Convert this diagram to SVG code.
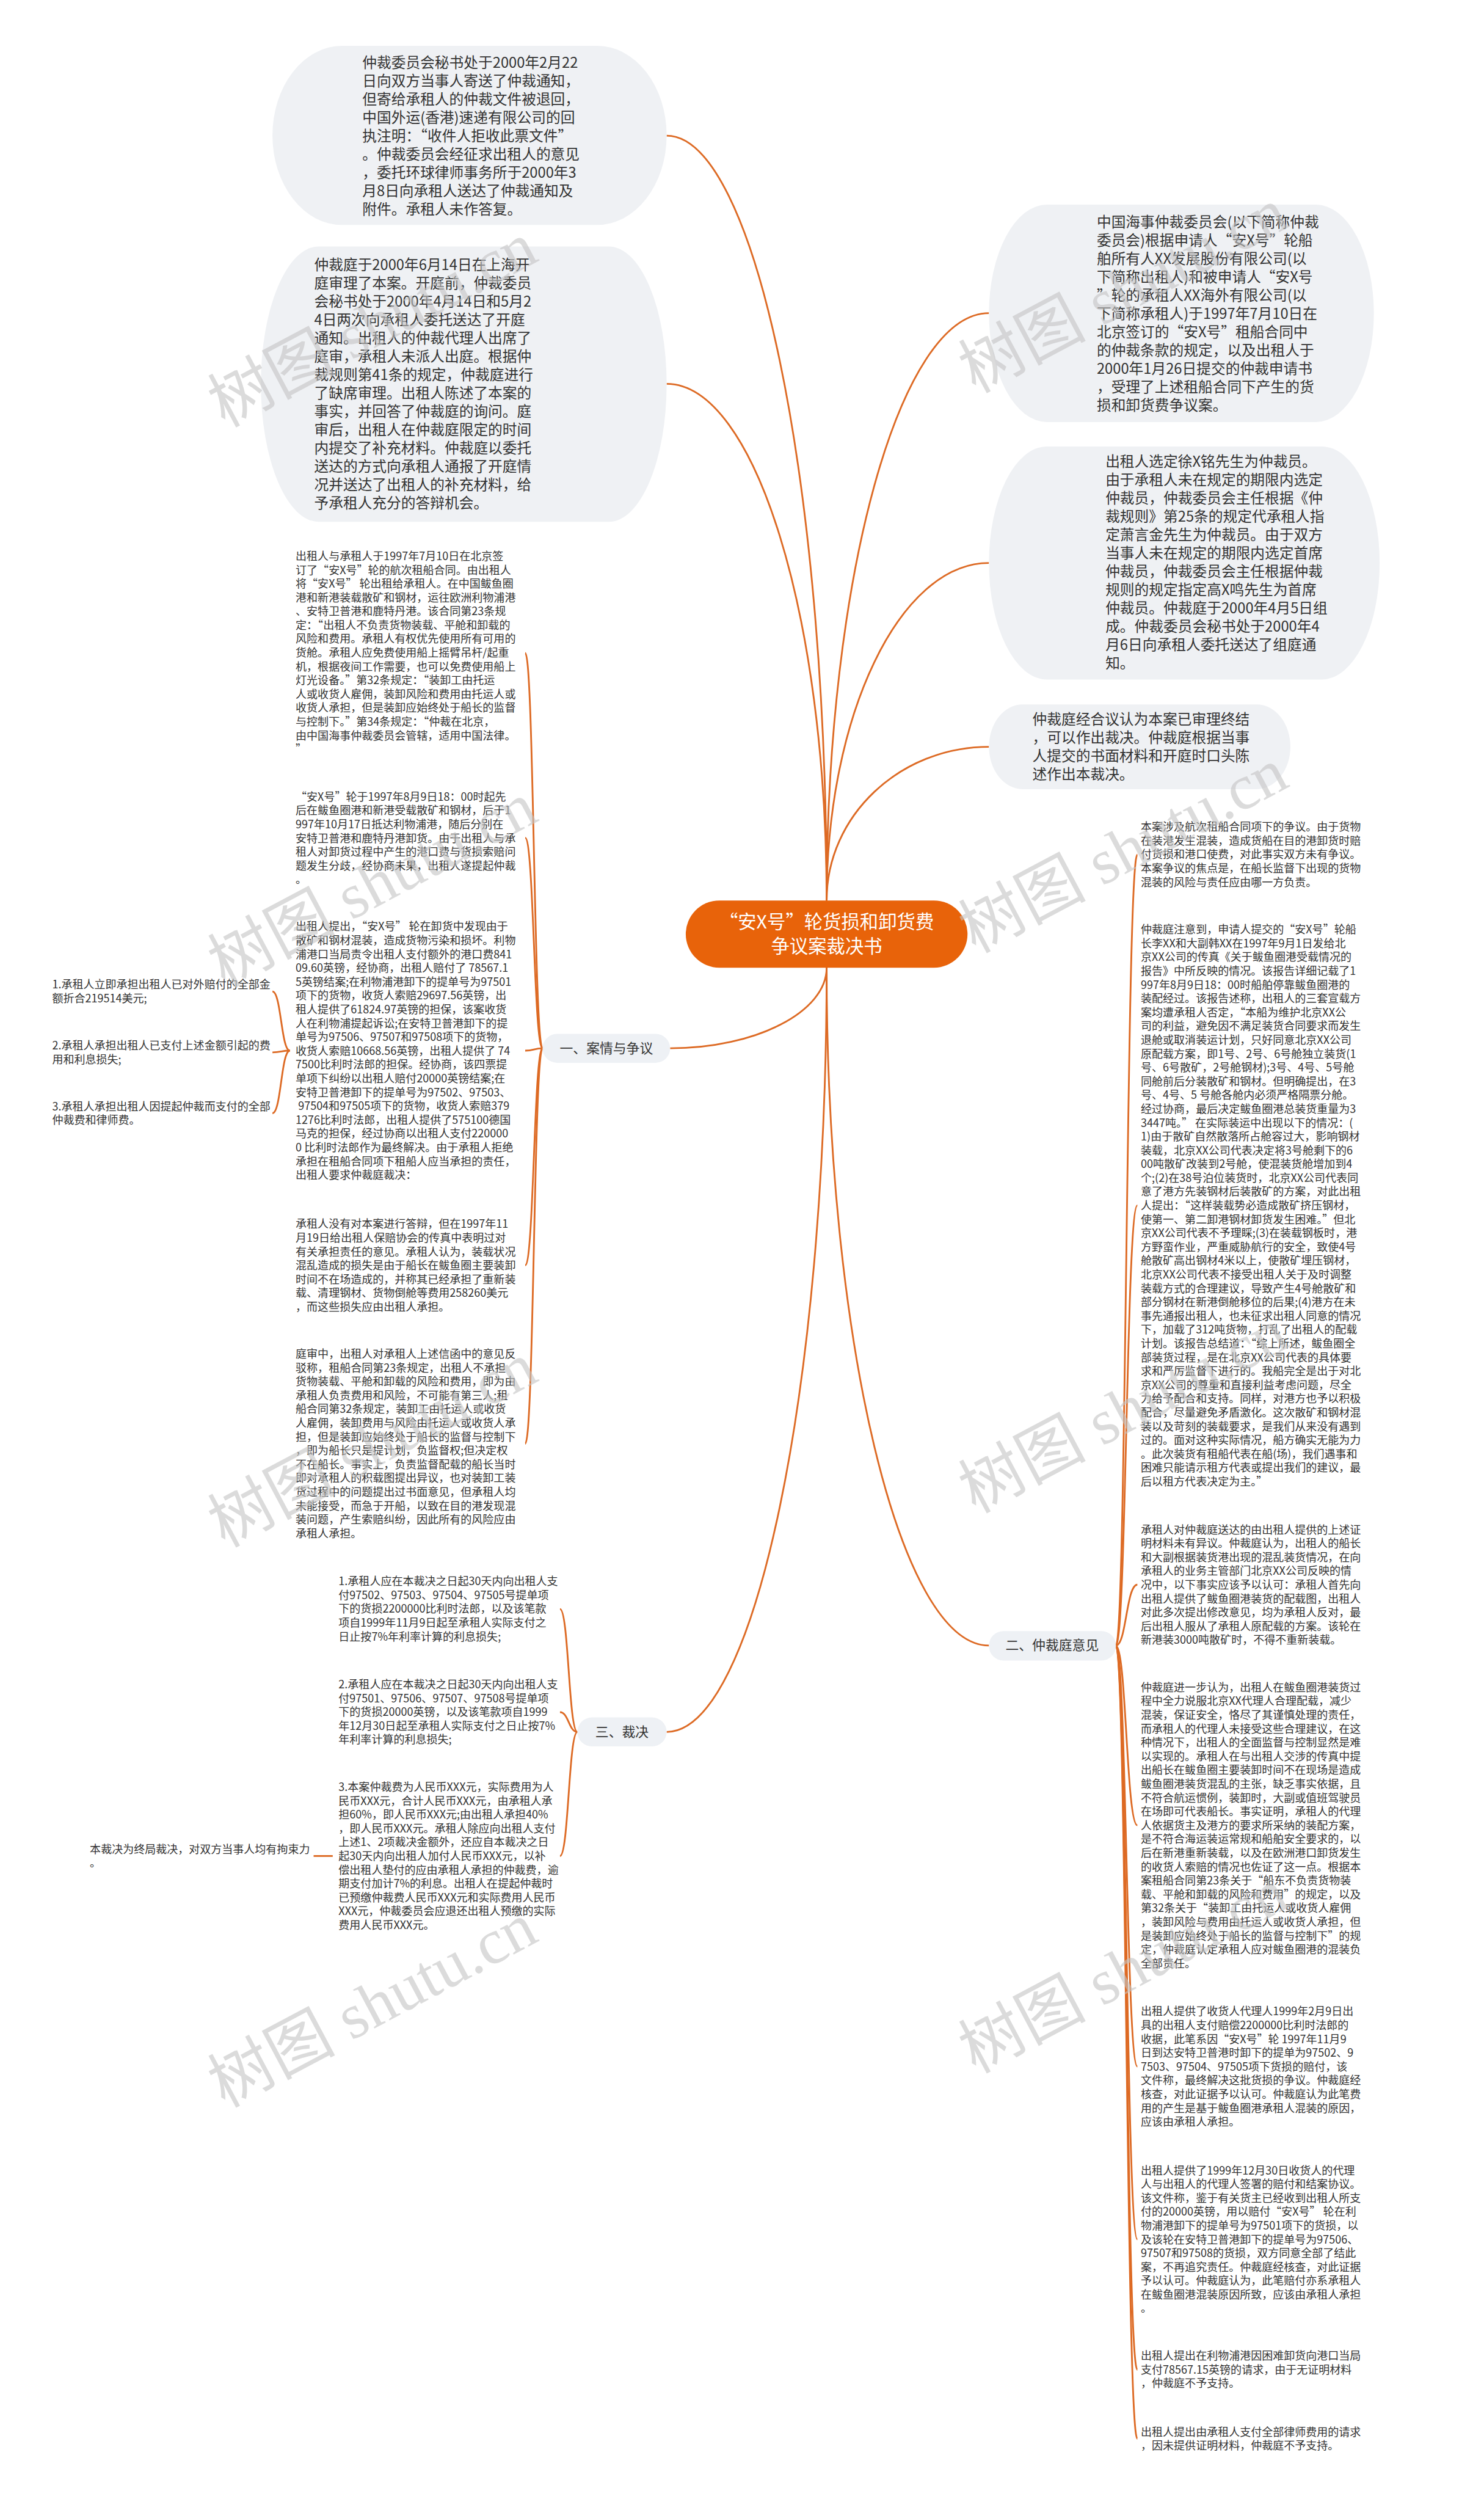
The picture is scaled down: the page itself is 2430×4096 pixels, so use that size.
<svg xmlns="http://www.w3.org/2000/svg" width="2430" height="4096" viewBox="0 0 2430 4096">
<style>
.cn{stroke:#dd6a24;stroke-width:3;fill:none}
.bub{fill:#eff1f4}
.t{font-family:"Noto Sans CJK SC","Noto Sans",sans-serif;fill:#333}
.bt{font-size:25px}
.lt{font-size:19px}
.lab{fill:#eef1f5}
.labt{font-size:23px;text-anchor:middle}
.root{fill:#e8630a}
.roott{font-size:32px;fill:#fff;text-anchor:middle}
.wm{font-family:"Liberation Serif","Noto Sans CJK SC",serif;font-size:110px;fill:#c4c4c4;opacity:.6}
</style>
<rect width="2430" height="4096" fill="#fff"/>
<g transform="scale(0.949219)">
<g id="connectors">
<path class="cn" d="M1426 1553 C1426 828 1302 234 1150 234"/>
<path class="cn" d="M1426 1553 C1426 1063 1302 662 1150 662"/>
<path class="cn" d="M1426 1553 C1426 996 1552 540 1706 540"/>
<path class="cn" d="M1426 1553 C1426 1233 1552 971 1706 971"/>
<path class="cn" d="M1426 1553 C1426 1407 1552 1288 1706 1288"/>
<path class="cn" d="M1426 1669 C1426 1745 1304 1808 1156 1808"/>
<path class="cn" d="M1426 1669 C1426 2312 1552 2838 1706 2838"/>
<path class="cn" d="M1426 1669 C1426 2394 1302 2987 1150 2987"/>
<path class="cn" d="M936 1808 C921 1808 921 1126 906 1126"/>
<path class="cn" d="M936 1808 C921 1808 921 1445 906 1445"/>
<path class="cn" d="M936 1808 C921 1808 921 1812 906 1812"/>
<path class="cn" d="M936 1808 C921 1808 921 2182 906 2182"/>
<path class="cn" d="M936 1808 C921 1808 921 2490 906 2490"/>
<path class="cn" d="M500 1812 C485 1812 485 1710 470 1710"/>
<path class="cn" d="M500 1812 C485 1812 485 1815 470 1815"/>
<path class="cn" d="M500 1812 C485 1812 485 1920 470 1920"/>
<path class="cn" d="M996 2987 C981 2987 981 2775 966 2775"/>
<path class="cn" d="M996 2987 C981 2987 981 2953 966 2953"/>
<path class="cn" d="M996 2987 C981 2987 981 3201 966 3201"/>
<path class="cn" d="M574 3201 L541 3201"/>
<path class="cn" d="M1925 2838 C1943 2838 1943 1474 1962 1474"/>
<path class="cn" d="M1925 2838 C1943 2838 1943 2079 1962 2079"/>
<path class="cn" d="M1925 2838 C1943 2838 1943 2733 1962 2733"/>
<path class="cn" d="M1925 2838 C1943 2838 1943 3148 1962 3148"/>
<path class="cn" d="M1925 2838 C1943 2838 1943 3564 1962 3564"/>
<path class="cn" d="M1925 2838 C1943 2838 1943 3862 1962 3862"/>
<path class="cn" d="M1925 2838 C1943 2838 1943 4087 1962 4087"/>
<path class="cn" d="M1925 2838 C1943 2838 1943 4206 1962 4206"/>
</g>
<g id="root">
<rect class="root" x="1183" y="1553" width="486" height="116" rx="58"/>
<text class="t roott"><tspan x="1426" y="1601">“安X号”轮货损和卸货费</tspan><tspan x="1426" y="1643">争议案裁决书</tspan></text>
</g>
<g id="b1">
<rect class="bub" x="470" y="79" width="680" height="309" rx="120" ry="154.5"/>
<text class="t bt"><tspan x="625" y="117">仲裁委员会秘书处于2000年2月22</tspan><tspan x="625" dy="31.6">日向双方当事人寄送了仲裁通知，</tspan><tspan x="625" dy="31.6">但寄给承租人的仲裁文件被退回，</tspan><tspan x="625" dy="31.6">中国外运(香港)速递有限公司的回</tspan><tspan x="625" dy="31.6">执注明：“收件人拒收此票文件”</tspan><tspan x="625" dy="31.6">。仲裁委员会经征求出租人的意见</tspan><tspan x="625" dy="31.6">，委托环球律师事务所于2000年3</tspan><tspan x="625" dy="31.6">月8日向承租人送达了仲裁通知及</tspan><tspan x="625" dy="31.6">附件。承租人未作答复。</tspan></text>
</g>
<g id="b2">
<rect class="bub" x="450" y="425" width="700" height="475" rx="100" ry="237.5"/>
<text class="t bt"><tspan x="542" y="466">仲裁庭于2000年6月14日在上海开</tspan><tspan x="542" dy="31.6">庭审理了本案。开庭前，仲裁委员</tspan><tspan x="542" dy="31.6">会秘书处于2000年4月14日和5月2</tspan><tspan x="542" dy="31.6">4日两次向承租人委托送达了开庭</tspan><tspan x="542" dy="31.6">通知。出租人的仲裁代理人出席了</tspan><tspan x="542" dy="31.6">庭审，承租人未派人出庭。根据仲</tspan><tspan x="542" dy="31.6">裁规则第41条的规定，仲裁庭进行</tspan><tspan x="542" dy="31.6">了缺席审理。出租人陈述了本案的</tspan><tspan x="542" dy="31.6">事实，并回答了仲裁庭的询问。庭</tspan><tspan x="542" dy="31.6">审后，出租人在仲裁庭限定的时间</tspan><tspan x="542" dy="31.6">内提交了补充材料。仲裁庭以委托</tspan><tspan x="542" dy="31.6">送达的方式向承租人通报了开庭情</tspan><tspan x="542" dy="31.6">况并送达了出租人的补充材料，给</tspan><tspan x="542" dy="31.6">予承租人充分的答辩机会。</tspan></text>
</g>
<g id="rb1">
<rect class="bub" x="1706" y="353" width="664" height="375" rx="100" ry="187.5"/>
<text class="t bt"><tspan x="1892" y="392">中国海事仲裁委员会(以下简称仲裁</tspan><tspan x="1892" dy="31.6">委员会)根据申请人“安X号”轮船</tspan><tspan x="1892" dy="31.6">舶所有人XX发展股份有限公司(以</tspan><tspan x="1892" dy="31.6">下简称出租人)和被申请人“安X号</tspan><tspan x="1892" dy="31.6">”轮的承租人XX海外有限公司(以</tspan><tspan x="1892" dy="31.6">下简称承租人)于1997年7月10日在</tspan><tspan x="1892" dy="31.6">北京签订的“安X号”租船合同中</tspan><tspan x="1892" dy="31.6">的仲裁条款的规定，以及出租人于</tspan><tspan x="1892" dy="31.6">2000年1月26日提交的仲裁申请书</tspan><tspan x="1892" dy="31.6">，受理了上述租船合同下产生的货</tspan><tspan x="1892" dy="31.6">损和卸货费争议案。</tspan></text>
</g>
<g id="rb2">
<rect class="bub" x="1706" y="770" width="674" height="402" rx="100" ry="201"/>
<text class="t bt"><tspan x="1907" y="805">出租人选定徐X铭先生为仲裁员。</tspan><tspan x="1907" dy="31.6">由于承租人未在规定的期限内选定</tspan><tspan x="1907" dy="31.6">仲裁员，仲裁委员会主任根据《仲</tspan><tspan x="1907" dy="31.6">裁规则》第25条的规定代承租人指</tspan><tspan x="1907" dy="31.6">定萧言金先生为仲裁员。由于双方</tspan><tspan x="1907" dy="31.6">当事人未在规定的期限内选定首席</tspan><tspan x="1907" dy="31.6">仲裁员，仲裁委员会主任根据仲裁</tspan><tspan x="1907" dy="31.6">规则的规定指定高X鸣先生为首席</tspan><tspan x="1907" dy="31.6">仲裁员。仲裁庭于2000年4月5日组</tspan><tspan x="1907" dy="31.6">成。仲裁委员会秘书处于2000年4</tspan><tspan x="1907" dy="31.6">月6日向承租人委托送达了组庭通</tspan><tspan x="1907" dy="31.6">知。</tspan></text>
</g>
<g id="rb3">
<rect class="bub" x="1706" y="1215" width="520" height="146" rx="58" ry="73"/>
<text class="t bt"><tspan x="1781" y="1249">仲裁庭经合议认为本案已审理终结</tspan><tspan x="1781" dy="31.6">，可以作出裁决。仲裁庭根据当事</tspan><tspan x="1781" dy="31.6">人提交的书面材料和开庭时口头陈</tspan><tspan x="1781" dy="31.6">述作出本裁决。</tspan></text>
</g>
<g id="sec1">
<rect class="lab" x="936" y="1783" width="220" height="50" rx="25"/>
<text class="t labt" x="1046" y="1816">一、案情与争议</text>
</g>
<g id="sec2">
<rect class="lab" x="1706" y="2813" width="219" height="51" rx="25"/>
<text class="t labt" x="1815" y="2846">二、仲裁庭意见</text>
</g>
<g id="sec3">
<rect class="lab" x="996" y="2962" width="154" height="50" rx="25"/>
<text class="t labt" x="1073" y="2995">三、裁决</text>
</g>
<g id="l1">
<text class="t lt"><tspan x="510" y="966">出租人与承租人于1997年7月10日在北京签</tspan><tspan x="510" dy="23.8">订了“安X号”轮的航次租船合同。由出租人</tspan><tspan x="510" dy="23.8">将“安X号” 轮出租给承租人。在中国鲅鱼圈</tspan><tspan x="510" dy="23.8">港和新港装载散矿和钢材，运往欧洲利物浦港</tspan><tspan x="510" dy="23.8">、安特卫普港和鹿特丹港。该合同第23条规</tspan><tspan x="510" dy="23.8">定：“出租人不负责货物装载、平舱和卸载的</tspan><tspan x="510" dy="23.8">风险和费用。承租人有权优先使用所有可用的</tspan><tspan x="510" dy="23.8">货舱。承租人应免费使用船上摇臂吊杆/起重</tspan><tspan x="510" dy="23.8">机，根据夜间工作需要，也可以免费使用船上</tspan><tspan x="510" dy="23.8">灯光设备。”第32条规定：“装卸工由托运</tspan><tspan x="510" dy="23.8">人或收货人雇佣，装卸风险和费用由托运人或</tspan><tspan x="510" dy="23.8">收货人承担，但是装卸应始终处于船长的监督</tspan><tspan x="510" dy="23.8">与控制下。”第34条规定：“仲裁在北京，</tspan><tspan x="510" dy="23.8">由中国海事仲裁委员会管辖，适用中国法律。</tspan><tspan x="510" dy="23.8">”</tspan></text>
</g>
<g id="l2">
<text class="t lt"><tspan x="510" y="1381">“安X号”轮于1997年8月9日18：00时起先</tspan><tspan x="510" dy="23.8">后在鲅鱼圈港和新港受载散矿和钢材，后于1</tspan><tspan x="510" dy="23.8">997年10月17日抵达利物浦港，随后分别在</tspan><tspan x="510" dy="23.8">安特卫普港和鹿特丹港卸货。由于出租人与承</tspan><tspan x="510" dy="23.8">租人对卸货过程中产生的港口费与货损索赔问</tspan><tspan x="510" dy="23.8">题发生分歧，经协商未果，出租人遂提起仲裁</tspan><tspan x="510" dy="23.8">。</tspan></text>
</g>
<g id="l3">
<text class="t lt"><tspan x="510" y="1605">出租人提出，“安X号” 轮在卸货中发现由于</tspan><tspan x="510" dy="23.8">散矿和钢材混装，造成货物污染和损坏。利物</tspan><tspan x="510" dy="23.8">浦港口当局责令出租人支付额外的港口费841</tspan><tspan x="510" dy="23.8">09.60英镑，经协商，出租人赔付了 78567.1</tspan><tspan x="510" dy="23.8">5英镑结案;在利物浦港卸下的提单号为97501</tspan><tspan x="510" dy="23.8">项下的货物，收货人索赔29697.56英镑，出</tspan><tspan x="510" dy="23.8">租人提供了61824.97英镑的担保，该案收货</tspan><tspan x="510" dy="23.8">人在利物浦提起诉讼;在安特卫普港卸下的提</tspan><tspan x="510" dy="23.8">单号为97506、97507和97508项下的货物，</tspan><tspan x="510" dy="23.8">收货人索赔10668.56英镑，出租人提供了 74</tspan><tspan x="510" dy="23.8">7500比利时法郎的担保。经协商，该四票提</tspan><tspan x="510" dy="23.8">单项下纠纷以出租人赔付20000英镑结案;在</tspan><tspan x="510" dy="23.8">安特卫普港卸下的提单号为97502、97503、</tspan><tspan x="510" dy="23.8"> 97504和97505项下的货物，收货人索赔379</tspan><tspan x="510" dy="23.8">1276比利时法郎，出租人提供了575100德国</tspan><tspan x="510" dy="23.8">马克的担保，经过协商以出租人支付220000</tspan><tspan x="510" dy="23.8">0 比利时法郎作为最终解决。由于承租人拒绝</tspan><tspan x="510" dy="23.8">承担在租船合同项下租船人应当承担的责任，</tspan><tspan x="510" dy="23.8">出租人要求仲裁庭裁决：</tspan></text>
</g>
<g id="i1">
<text class="t lt"><tspan x="90" y="1705">1.承租人立即承担出租人已对外赔付的全部金</tspan><tspan x="90" dy="23.8">额折合219514美元;</tspan></text>
</g>
<g id="i2">
<text class="t lt"><tspan x="90" y="1810">2.承租人承担出租人已支付上述金额引起的费</tspan><tspan x="90" dy="23.8">用和利息损失;</tspan></text>
</g>
<g id="i3">
<text class="t lt"><tspan x="90" y="1915">3.承租人承担出租人因提起仲裁而支付的全部</tspan><tspan x="90" dy="23.8">仲裁费和律师费。</tspan></text>
</g>
<g id="l4">
<text class="t lt"><tspan x="510" y="2118">承租人没有对本案进行答辩，但在1997年11</tspan><tspan x="510" dy="23.8">月19日给出租人保赔协会的传真中表明过对</tspan><tspan x="510" dy="23.8">有关承担责任的意见。承租人认为，装载状况</tspan><tspan x="510" dy="23.8">混乱造成的损失是由于船长在鲅鱼圈主要装卸</tspan><tspan x="510" dy="23.8">时间不在场造成的，并称其已经承担了重新装</tspan><tspan x="510" dy="23.8">载、清理钢材、货物倒舱等费用258260美元</tspan><tspan x="510" dy="23.8">，而这些损失应由出租人承担。</tspan></text>
</g>
<g id="l5">
<text class="t lt"><tspan x="510" y="2342">庭审中，出租人对承租人上述信函中的意见反</tspan><tspan x="510" dy="23.8">驳称，租船合同第23条规定，出租人不承担</tspan><tspan x="510" dy="23.8">货物装载、平舱和卸载的风险和费用，即为由</tspan><tspan x="510" dy="23.8">承租人负责费用和风险，不可能有第三人;租</tspan><tspan x="510" dy="23.8">船合同第32条规定，装卸工由托运人或收货</tspan><tspan x="510" dy="23.8">人雇佣，装卸费用与风险由托运人或收货人承</tspan><tspan x="510" dy="23.8">担，但是装卸应始终处于船长的监督与控制下</tspan><tspan x="510" dy="23.8">，即为船长只是提计划，负监督权;但决定权</tspan><tspan x="510" dy="23.8">不在船长。事实上，负责监督配载的船长当时</tspan><tspan x="510" dy="23.8">即对承租人的积载图提出异议，也对装卸工装</tspan><tspan x="510" dy="23.8">货过程中的问题提出过书面意见，但承租人均</tspan><tspan x="510" dy="23.8">未能接受，而急于开船，以致在目的港发现混</tspan><tspan x="510" dy="23.8">装问题，产生索赔纠纷，因此所有的风险应由</tspan><tspan x="510" dy="23.8">承租人承担。</tspan></text>
</g>
<g id="s1">
<text class="t lt"><tspan x="584" y="2734">1.承租人应在本裁决之日起30天内向出租人支</tspan><tspan x="584" dy="23.8">付97502、97503、97504、97505号提单项</tspan><tspan x="584" dy="23.8">下的货损2200000比利时法郎，以及该笔款</tspan><tspan x="584" dy="23.8">项自1999年11月9日起至承租人实际支付之</tspan><tspan x="584" dy="23.8">日止按7%年利率计算的利息损失;</tspan></text>
</g>
<g id="s2">
<text class="t lt"><tspan x="584" y="2912">2.承租人应在本裁决之日起30天内向出租人支</tspan><tspan x="584" dy="23.8">付97501、97506、97507、97508号提单项</tspan><tspan x="584" dy="23.8">下的货损20000英镑，以及该笔款项自1999</tspan><tspan x="584" dy="23.8">年12月30日起至承租人实际支付之日止按7%</tspan><tspan x="584" dy="23.8">年利率计算的利息损失;</tspan></text>
</g>
<g id="s3">
<text class="t lt"><tspan x="584" y="3089">3.本案仲裁费为人民币XXX元，实际费用为人</tspan><tspan x="584" dy="23.8">民币XXX元，合计人民币XXX元，由承租人承</tspan><tspan x="584" dy="23.8">担60%，即人民币XXX元;由出租人承担40%</tspan><tspan x="584" dy="23.8">，即人民币XXX元。承租人除应向出租人支付</tspan><tspan x="584" dy="23.8">上述1、2项裁决金额外，还应自本裁决之日</tspan><tspan x="584" dy="23.8">起30天内向出租人加付人民币XXX元，以补</tspan><tspan x="584" dy="23.8">偿出租人垫付的应由承租人承担的仲裁费，逾</tspan><tspan x="584" dy="23.8">期支付加计7%的利息。出租人在提起仲裁时</tspan><tspan x="584" dy="23.8">已预缴仲裁费人民币XXX元和实际费用人民币</tspan><tspan x="584" dy="23.8">XXX元，仲裁委员会应退还出租人预缴的实际</tspan><tspan x="584" dy="23.8">费用人民币XXX元。</tspan></text>
</g>
<g id="f1">
<text class="t lt"><tspan x="155" y="3196">本裁决为终局裁决，对双方当事人均有拘束力</tspan><tspan x="155" dy="23.8">。</tspan></text>
</g>
<g id="r1">
<text class="t lt"><tspan x="1968" y="1433">本案涉及航次租船合同项下的争议。由于货物</tspan><tspan x="1968" dy="23.8">在装港发生混装，造成货船在目的港卸货时赔</tspan><tspan x="1968" dy="23.8">付货损和港口使费，对此事实双方未有争议。</tspan><tspan x="1968" dy="23.8">本案争议的焦点是，在船长监督下出现的货物</tspan><tspan x="1968" dy="23.8">混装的风险与责任应由哪一方负责。</tspan></text>
</g>
<g id="r2">
<text class="t lt"><tspan x="1968" y="1610">仲裁庭注意到，申请人提交的“安X号”轮船</tspan><tspan x="1968" dy="23.8">长李XX和大副韩XX在1997年9月1日发给北</tspan><tspan x="1968" dy="23.8">京XX公司的传真《关于鲅鱼圈港受载情况的</tspan><tspan x="1968" dy="23.8">报告》中所反映的情况。该报告详细记载了1</tspan><tspan x="1968" dy="23.8">997年8月9日18：00时船舶停靠鲅鱼圈港的</tspan><tspan x="1968" dy="23.8">装配经过。该报告述称，出租人的三套宣载方</tspan><tspan x="1968" dy="23.8">案均遭承租人否定，“本船为维护北京XX公</tspan><tspan x="1968" dy="23.8">司的利益，避免因不满足装货合同要求而发生</tspan><tspan x="1968" dy="23.8">退舱或取消装运计划，只好同意北京XX公司</tspan><tspan x="1968" dy="23.8">原配载方案，即1号、2号、6号舱独立装货(1</tspan><tspan x="1968" dy="23.8">号、6号散矿，2号舱钢材);3号、4号、5号舱</tspan><tspan x="1968" dy="23.8">同舱前后分装散矿和钢材。但明确提出，在3</tspan><tspan x="1968" dy="23.8">号、4号、5 号舱各舱内必须严格隔票分舱。</tspan><tspan x="1968" dy="23.8">经过协商，最后决定鲅鱼圈港总装货重量为3</tspan><tspan x="1968" dy="23.8">3447吨。” 在实际装运中出现以下的情况：(</tspan><tspan x="1968" dy="23.8">1)由于散矿自然散落所占舱容过大，影响钢材</tspan><tspan x="1968" dy="23.8">装载，北京XX公司代表决定将3号舱剩下的6</tspan><tspan x="1968" dy="23.8">00吨散矿改装到2号舱，使混装货舱增加到4</tspan><tspan x="1968" dy="23.8">个;(2)在38号泊位装货时，北京XX公司代表同</tspan><tspan x="1968" dy="23.8">意了港方先装钢材后装散矿的方案，对此出租</tspan><tspan x="1968" dy="23.8">人提出：“这样装载势必造成散矿挤压钢材，</tspan><tspan x="1968" dy="23.8">使第一、第二卸港钢材卸货发生困难。”但北</tspan><tspan x="1968" dy="23.8">京XX公司代表不予理睬;(3)在装载钢板时，港</tspan><tspan x="1968" dy="23.8">方野蛮作业，严重威胁航行的安全，致使4号</tspan><tspan x="1968" dy="23.8">舱散矿高出钢材4米以上，使散矿埋压钢材，</tspan><tspan x="1968" dy="23.8">北京XX公司代表不接受出租人关于及时调整</tspan><tspan x="1968" dy="23.8">装载方式的合理建议，导致产生4号舱散矿和</tspan><tspan x="1968" dy="23.8">部分钢材在新港倒舱移位的后果;(4)港方在未</tspan><tspan x="1968" dy="23.8">事先通报出租人，也未征求出租人同意的情况</tspan><tspan x="1968" dy="23.8">下，加载了312吨货物，打乱了出租人的配载</tspan><tspan x="1968" dy="23.8">计划。该报告总结道：“综上所述，鲅鱼圈全</tspan><tspan x="1968" dy="23.8">部装货过程，是在北京XX公司代表的具体要</tspan><tspan x="1968" dy="23.8">求和严厉监督下进行的。我船完全是出于对北</tspan><tspan x="1968" dy="23.8">京XX公司的尊重和直接利益考虑问题，尽全</tspan><tspan x="1968" dy="23.8">力给予配合和支持。同样，对港方也予以积极</tspan><tspan x="1968" dy="23.8">配合，尽量避免矛盾激化。这次散矿和钢材混</tspan><tspan x="1968" dy="23.8">装以及苛刻的装载要求，是我们从来没有遇到</tspan><tspan x="1968" dy="23.8">过的。面对这种实际情况，船方确实无能为力</tspan><tspan x="1968" dy="23.8">。此次装货有租船代表在船(场)，我们遇事和</tspan><tspan x="1968" dy="23.8">困难只能请示租方代表或提出我们的建议，最</tspan><tspan x="1968" dy="23.8">后以租方代表决定为主。”</tspan></text>
</g>
<g id="r3">
<text class="t lt"><tspan x="1968" y="2645">承租人对仲裁庭送达的由出租人提供的上述证</tspan><tspan x="1968" dy="23.8">明材料未有异议。仲裁庭认为，出租人的船长</tspan><tspan x="1968" dy="23.8">和大副根据装货港出现的混乱装货情况，在向</tspan><tspan x="1968" dy="23.8">承租人的业务主管部门北京XX公司反映的情</tspan><tspan x="1968" dy="23.8">况中，以下事实应该予以认可：承租人首先向</tspan><tspan x="1968" dy="23.8">出租人提供了鲅鱼圈港装货的配载图，出租人</tspan><tspan x="1968" dy="23.8">对此多次提出修改意见，均为承租人反对，最</tspan><tspan x="1968" dy="23.8">后出租人服从了承租人原配载的方案。该轮在</tspan><tspan x="1968" dy="23.8">新港装3000吨散矿时，不得不重新装载。</tspan></text>
</g>
<g id="r4">
<text class="t lt"><tspan x="1968" y="2917">仲裁庭进一步认为，出租人在鲅鱼圈港装货过</tspan><tspan x="1968" dy="23.8">程中全力说服北京XX代理人合理配载，减少</tspan><tspan x="1968" dy="23.8">混装，保证安全，恪尽了其谨慎处理的责任，</tspan><tspan x="1968" dy="23.8">而承租人的代理人未接受这些合理建议，在这</tspan><tspan x="1968" dy="23.8">种情况下，出租人的全面监督与控制显然是难</tspan><tspan x="1968" dy="23.8">以实现的。承租人在与出租人交涉的传真中提</tspan><tspan x="1968" dy="23.8">出船长在鲅鱼圈主要装卸时间不在现场是造成</tspan><tspan x="1968" dy="23.8">鲅鱼圈港装货混乱的主张，缺乏事实依据，且</tspan><tspan x="1968" dy="23.8">不符合航运惯例，装卸时，大副或值班驾驶员</tspan><tspan x="1968" dy="23.8">在场即可代表船长。事实证明，承租人的代理</tspan><tspan x="1968" dy="23.8">人依据货主及港方的要求所采纳的装配方案，</tspan><tspan x="1968" dy="23.8">是不符合海运装运常规和船舶安全要求的，以</tspan><tspan x="1968" dy="23.8">后在新港重新装载，以及在欧洲港口卸货发生</tspan><tspan x="1968" dy="23.8">的收货人索赔的情况也佐证了这一点。根据本</tspan><tspan x="1968" dy="23.8">案租船合同第23条关于“船东不负责货物装</tspan><tspan x="1968" dy="23.8">载、平舱和卸载的风险和费用”的规定，以及</tspan><tspan x="1968" dy="23.8">第32条关于“装卸工由托运人或收货人雇佣</tspan><tspan x="1968" dy="23.8">，装卸风险与费用由托运人或收货人承担，但</tspan><tspan x="1968" dy="23.8">是装卸应始终处于船长的监督与控制下”的规</tspan><tspan x="1968" dy="23.8">定，仲裁庭认定承租人应对鲅鱼圈港的混装负</tspan><tspan x="1968" dy="23.8">全部责任。</tspan></text>
</g>
<g id="r5">
<text class="t lt"><tspan x="1968" y="3476">出租人提供了收货人代理人1999年2月9日出</tspan><tspan x="1968" dy="23.8">具的出租人支付赔偿2200000比利时法郎的</tspan><tspan x="1968" dy="23.8">收据，此笔系因“安X号”轮 1997年11月9</tspan><tspan x="1968" dy="23.8">日到达安特卫普港时卸下的提单为97502、9</tspan><tspan x="1968" dy="23.8">7503、97504、97505项下货损的赔付，该</tspan><tspan x="1968" dy="23.8">文件称，最终解决这批货损的争议。仲裁庭经</tspan><tspan x="1968" dy="23.8">核查，对此证据予以认可。仲裁庭认为此笔费</tspan><tspan x="1968" dy="23.8">用的产生是基于鲅鱼圈港承租人混装的原因，</tspan><tspan x="1968" dy="23.8">应该由承租人承担。</tspan></text>
</g>
<g id="r6">
<text class="t lt"><tspan x="1968" y="3750">出租人提供了1999年12月30日收货人的代理</tspan><tspan x="1968" dy="23.8">人与出租人的代理人签署的赔付和结案协议。</tspan><tspan x="1968" dy="23.8">该文件称，鉴于有关货主已经收到出租人所支</tspan><tspan x="1968" dy="23.8">付的20000英镑，用以赔付“安X号” 轮在利</tspan><tspan x="1968" dy="23.8">物浦港卸下的提单号为97501项下的货损，以</tspan><tspan x="1968" dy="23.8">及该轮在安特卫普港卸下的提单号为97506、</tspan><tspan x="1968" dy="23.8">97507和97508的货损，双方同意全部了结此</tspan><tspan x="1968" dy="23.8">案，不再追究责任。仲裁庭经核查，对此证据</tspan><tspan x="1968" dy="23.8">予以认可。仲裁庭认为，此笔赔付亦系承租人</tspan><tspan x="1968" dy="23.8">在鲅鱼圈港混装原因所致，应该由承租人承担</tspan><tspan x="1968" dy="23.8">。</tspan></text>
</g>
<g id="r7">
<text class="t lt"><tspan x="1968" y="4070">出租人提出在利物浦港因困难卸货向港口当局</tspan><tspan x="1968" dy="23.8">支付78567.15英镑的请求，由于无证明材料</tspan><tspan x="1968" dy="23.8">，仲裁庭不予支持。</tspan></text>
</g>
<g id="r8">
<text class="t lt"><tspan x="1968" y="4201">出租人提出由承租人支付全部律师费用的请求</tspan><tspan x="1968" dy="23.8">，因未提供证明材料，仲裁庭不予支持。</tspan></text>
</g>
<g id="watermarks">
<text class="wm" text-anchor="middle" transform="translate(660 593) rotate(-28)">树图 shutu.cn</text>
<text class="wm" text-anchor="middle" transform="translate(660 1559) rotate(-28)">树图 shutu.cn</text>
<text class="wm" text-anchor="middle" transform="translate(660 2525) rotate(-28)">树图 shutu.cn</text>
<text class="wm" text-anchor="middle" transform="translate(660 3491) rotate(-28)">树图 shutu.cn</text>
<text class="wm" text-anchor="middle" transform="translate(1955 534) rotate(-28)">树图 shutu.cn</text>
<text class="wm" text-anchor="middle" transform="translate(1955 1500) rotate(-28)">树图 shutu.cn</text>
<text class="wm" text-anchor="middle" transform="translate(1955 2466) rotate(-28)">树图 shutu.cn</text>
<text class="wm" text-anchor="middle" transform="translate(1955 3432) rotate(-28)">树图 shutu.cn</text>
</g>
</g>
</svg>
